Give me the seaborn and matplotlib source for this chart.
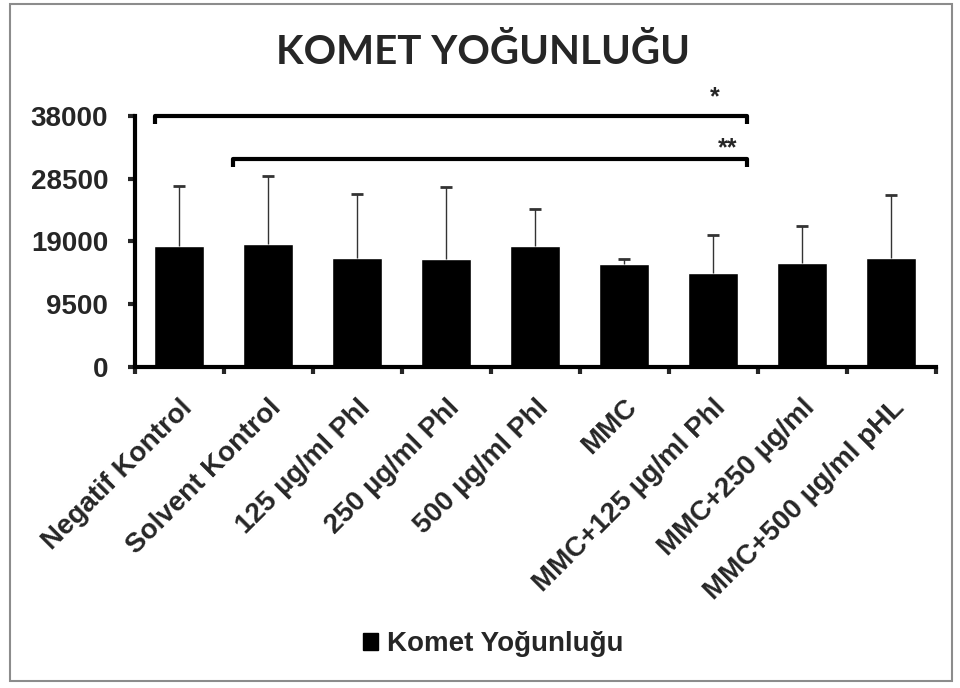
import numpy as np
import pandas as pd
import matplotlib
matplotlib.use('Agg')
import matplotlib.pyplot as plt
from matplotlib.patches import Patch, Rectangle
import seaborn as sns

# Values
categories = ['Negatif Kontrol', 'Solvent Kontrol', '125 µg/ml Phl', '250 µg/ml Phl',
              '500 µg/ml Phl', 'MMC', 'MMC+125 µg/ml Phl', 'MMC+250 µg/ml',
              'MMC+500 µg/ml pHL']
means = [18320, 18680, 16560, 16350, 18320, 15590, 14230, 15800, 16560]
err_top = [27360, 28980, 26250, 27200, 23980, 16350, 20040, 21350, 26100]
yticks = [0, 9500, 19000, 28500, 38000]
series_name = 'Komet Yoğunluğu'
title = 'KOMET YOĞUNLUĞU'

# significance brackets: (x start, x end, y, label, label x, label y)
brackets = [(-0.275, 6.38, 38000, '*', 6.02, 40900),
            (0.607, 6.38, 31440, '**', 6.16, 33200)]

sns.set_style('white')
plt.rcParams['font.family'] = ['Liberation Sans', 'DejaVu Sans']

df = pd.DataFrame({'grup': categories, 'deger': means})

fig = plt.figure(figsize=(9.6, 6.88), dpi=100)
ax = fig.add_axes([134.5 / 960, 1 - 366.7 / 688, 801 / 960, 250.5 / 688])

sns.barplot(data=df, x='grup', y='deger', color='black', width=0.57,
            saturation=1, errorbar=None, ax=ax)

# upper error bars only
xpos = np.arange(len(categories))
ax.vlines(xpos, means, err_top, color='#333333', lw=1, zorder=3)
ax.hlines(err_top, xpos - 0.065, xpos + 0.065, color='#333333', lw=2, zorder=3)

ax.set_xlim(-0.5, len(categories) - 0.5)
ax.set_ylim(0, 38000)
ax.set_yticks(yticks)
ax.set_yticklabels([str(v) for v in yticks], fontsize=20, fontweight='bold')
ax.set_xticks(xpos)
ax.set_xticklabels(categories, rotation=45, ha='right', rotation_mode='anchor',
                   fontsize=20, fontweight='bold')
ax.tick_params(axis='x', length=0, pad=20)
ax.tick_params(axis='y', length=5, width=3, direction='out', left=True, pad=14)
# x ticks between categories
ax.set_xticks(np.arange(len(categories) + 1) - 0.5, minor=True)
ax.tick_params(axis='x', which='minor', length=5, width=3, direction='out', bottom=True)
ax.set_xlabel('')
ax.set_ylabel('')

for side in ['top', 'right']:
    ax.spines[side].set_visible(False)
for side in ['left', 'bottom']:
    ax.spines[side].set_linewidth(3)
    ax.spines[side].set_color('black')

# brackets
for x0, x1, y, lab, lx, ly in brackets:
    drop = 1150
    ax.plot([x0, x0, x1, x1], [y - drop, y, y, y - drop], color='black', lw=3,
            clip_on=False, solid_capstyle='butt')
    ax.text(lx, ly, lab, ha='center', va='center', fontsize=18,
            fontweight='bold', clip_on=False)

fig.text(483.5 / 960, 1 - 52 / 688, title, ha='center', va='center',
         fontsize=29, fontweight='bold', family=['Lato', 'DejaVu Sans'])

handles = [Patch(facecolor='black', edgecolor='black')]
fig.legend(handles, [series_name], loc='center', bbox_to_anchor=(493 / 960, 1 - 644 / 688),
           frameon=False, prop={'weight': 'bold', 'size': 20},
           handlelength=0.55, handleheight=0.55, handletextpad=0.3)

fig.patches.append(Rectangle((10 / 960, 1 - 681 / 688), 942 / 960, 677 / 688,
                             transform=fig.transFigure, fill=False,
                             edgecolor='#8c8c8c', lw=1.5))

fig.savefig('out.png', dpi=100)
